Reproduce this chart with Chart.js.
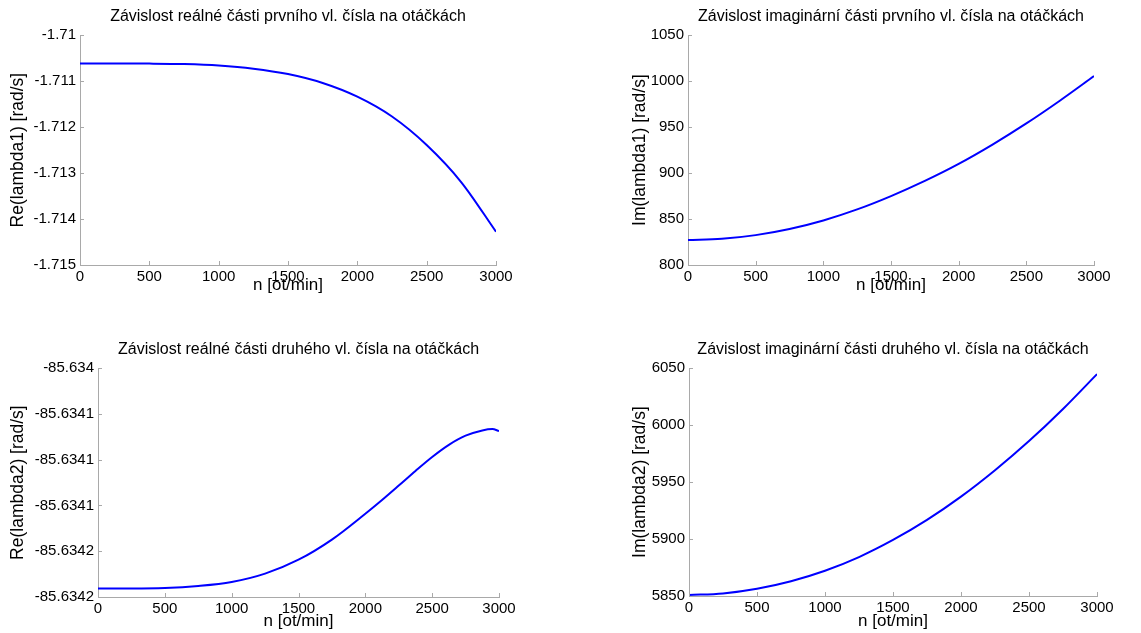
<!DOCTYPE html>
<html lang="cs">
<head>
  <meta charset="UTF-8" />
  <title>Vlastní čísla v závislosti na otáčkách</title>
  <script src="https://cdn.jsdelivr.net/npm/chart.js"></script>
  <style>
    body { margin: 0; background: #fff; }
    .wrap { position: relative; width: 1141px; height: 633px; overflow: hidden; }
    canvas { position: absolute; }
  </style>
</head>
<body>
  <div class="wrap">
    <canvas id="re1" width="570" height="316" style="left:0;top:0"></canvas>
    <canvas id="im1" width="541" height="316" style="left:600px;top:0"></canvas>
    <canvas id="re2" width="570" height="300" style="left:0;top:333px"></canvas>
    <canvas id="im2" width="541" height="300" style="left:600px;top:333px"></canvas>
  </div>

<script>
  // otacky [ot/min]
  const rpm = [0, 250, 500, 750, 1000, 1250, 1500, 1750, 2000, 2250, 2500, 2750, 3000];
  const rpmRe2 = [0, 250, 500, 750, 1000, 1250, 1500, 1750, 2000, 2125, 2250, 2375, 2500, 2625,
                  2750, 2875, 2950, 3000];

  // odectene hodnoty
  const reLambda1 = [-1.710615, -1.710615, -1.710618, -1.710629, -1.710660, -1.710728, -1.710846,
                     -1.711040, -1.711338, -1.711770, -1.712390, -1.713200, -1.714276];
  const imLambda1 = [827.2, 828.5, 832.5, 839.2, 848.5, 860.5, 875.0, 891.5, 910.0, 931.0, 954.0, 979.0, 1005.5];
  const reLambda2 = [-85.6341926, -85.6341926, -85.6341922, -85.6341904, -85.6341869, -85.6341796,
                     -85.6341674, -85.6341498, -85.6341272, -85.6341152, -85.6341026, -85.6340898,
                     -85.6340776, -85.634067, -85.634059, -85.6340544, -85.6340532, -85.634055];
  const imLambda2 = [5850.9, 5852.3, 5856.4, 5863.0, 5872.2, 5884.2, 5899.2, 5916.8, 5937.2, 5960.4,
                     5986.0, 6014.2, 6044.8];

  // osy
  const xTicks = [0, 500, 1000, 1500, 2000, 2500, 3000];
  const re1Ticks = [-1.715, -1.714, -1.713, -1.712, -1.711, -1.71];
  const re1Labels = ['-1.715', '-1.714', '-1.713', '-1.712', '-1.711', '-1.71'];
  const im1Ticks = [800, 850, 900, 950, 1000, 1050];
  const re2Ticks = [-85.6342, -85.63416, -85.63412, -85.63408, -85.63404, -85.634];
  const re2Labels = ['-85.6342', '-85.6342', '-85.6341', '-85.6341', '-85.6341', '-85.634'];
  const im2Ticks = [5850, 5900, 5950, 6000, 6050];

  const FONT = "'Liberation Sans', Arial, sans-serif";
  const AXIS = '#a9a9a9';

  // kratke znacky smerem dovnitr (jako v matlabu)
  const innerTicks = {
    id: 'innerTicks',
    afterDraw(chart) {
      const ctx = chart.ctx, a = chart.chartArea;
      ctx.save();
      ctx.strokeStyle = AXIS;
      ctx.lineWidth = 1;
      ctx.beginPath();
      chart.scales.x.ticks.forEach(t => {
        const px = Math.round(chart.scales.x.getPixelForValue(t.value)) + 0.5;
        ctx.moveTo(px, a.bottom);
        ctx.lineTo(px, a.bottom - 4);
      });
      chart.scales.y.ticks.forEach(t => {
        const py = Math.round(chart.scales.y.getPixelForValue(t.value)) + 0.5;
        ctx.moveTo(a.left, py);
        ctx.lineTo(a.left + 4, py);
      });
      ctx.stroke();
      ctx.restore();
    }
  };

  function panel(id, p) {
    new Chart(document.getElementById(id), {
      type: 'line',
      data: {
        datasets: [{
          data: p.xs.map((n, i) => ({ x: n, y: p.ys[i] })),
          borderColor: '#0000ff',
          borderWidth: 2,
          pointRadius: 0,
          fill: false,
          cubicInterpolationMode: 'monotone'
        }]
      },
      options: {
        responsive: false,
        animation: false,
        layout: { autoPadding: false, padding: p.pad },
        plugins: {
          legend: { display: false },
          tooltip: { enabled: false },
          title: {
            display: true,
            fullSize: false,
            text: p.title,
            color: '#000',
            font: { family: FONT, size: 16, weight: 'normal', lineHeight: 1.2 },
            padding: { top: 7, bottom: 9 }
          }
        },
        scales: {
          x: {
            type: 'linear',
            min: 0,
            max: 3000,
            afterBuildTicks: s => { s.ticks = xTicks.map(v => ({ value: v })); },
            afterFit: s => { s.height = p.xh; },
            grid: { display: false, drawTicks: false },
            border: { display: true, color: AXIS },
            ticks: {
              color: '#000',
              padding: 3,
              maxRotation: 0,
              autoSkip: false,
              font: { family: FONT, size: 15 },
              callback: v => String(v)
            },
            title: {
              display: true,
              text: 'n [ot/min]',
              color: '#000',
              font: { family: FONT, size: 17 },
              padding: { top: 0, bottom: 0 }
            }
          },
          y: {
            type: 'linear',
            min: p.yt[0],
            max: p.yt[p.yt.length - 1],
            afterBuildTicks: s => { s.ticks = p.yt.map(v => ({ value: v })); },
            afterFit: s => { s.width = p.yw; },
            grid: { display: false, drawTicks: false },
            border: { display: true, color: AXIS },
            ticks: {
              color: '#000',
              padding: 4,
              autoSkip: false,
              font: { family: FONT, size: 15 },
              callback: (v, i) => p.yl ? p.yl[i] : String(v)
            },
            title: {
              display: true,
              text: p.ytitle,
              color: '#000',
              font: { family: FONT, size: 17.5 },
              padding: { top: p.ytp, bottom: 0 }
            }
          }
        }
      },
      plugins: [innerTicks]
    });
  }

  panel('re1', {
    title: 'Závislost reálné části prvního vl. čísla na otáčkách',
    ytitle: 'Re(lambda1) [rad/s]',
    xs: rpm, ys: reLambda1, yt: re1Ticks, yl: re1Labels,
    yw: 80, xh: 31, ytp: 7.5, pad: { left: 0, right: 74, top: 0, bottom: 20 }
  });
  panel('im1', {
    title: 'Závislost imaginární části prvního vl. čísla na otáčkách',
    ytitle: 'Im(lambda1) [rad/s]',
    xs: rpm, ys: imLambda1, yt: im1Ticks,
    yw: 88, xh: 31, ytp: 29.5, pad: { left: 0, right: 47, top: 0, bottom: 20 }
  });
  panel('re2', {
    title: 'Závislost reálné části druhého vl. čísla na otáčkách',
    ytitle: 'Re(lambda2) [rad/s]',
    xs: rpmRe2, ys: reLambda2, yt: re2Ticks, yl: re2Labels,
    yw: 98, xh: 35, ytp: 7.5, pad: { left: 0, right: 71, top: 0, bottom: 1 }
  });
  panel('im2', {
    title: 'Závislost imaginární části druhého vl. čísla na otáčkách',
    ytitle: 'Im(lambda2) [rad/s]',
    xs: rpm, ys: imLambda2, yt: im2Ticks,
    yw: 89, xh: 36, ytp: 29.5, pad: { left: 0, right: 44, top: 0, bottom: 1 }
  });
</script>
</body>
</html>
